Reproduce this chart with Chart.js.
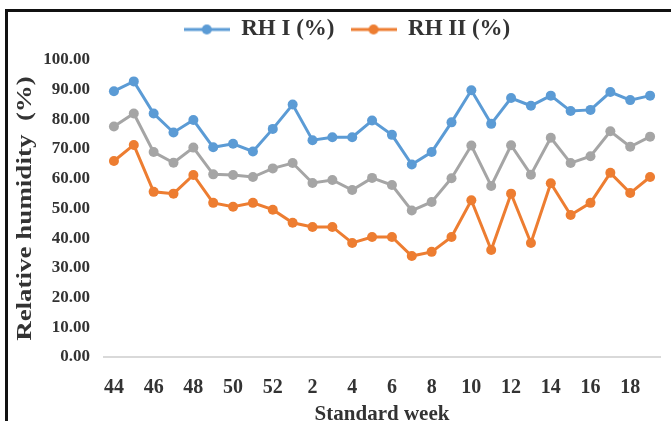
<!DOCTYPE html>
<html>
<head>
<meta charset="utf-8">
<script src="https://cdn.jsdelivr.net/npm/chart.js@4.4.1/dist/chart.umd.min.js"></script>
<style>
  html, body { margin:0; padding:0; background:#fff; overflow:hidden; }
  #wrap { position:relative; width:671px; height:421px; overflow:hidden; }
  #frame { position:absolute; left:5px; top:9px; right:-10px; bottom:-10px; border-top:3px solid #111; border-left:3px solid #111; pointer-events:none; }
  canvas { position:absolute; left:0; top:0; }
</style>
</head>
<body>
<div id="wrap">
  <canvas id="myChart" width="671" height="427"></canvas>
  <div id="frame"></div>
</div>
<script>
// 標準週
var weeks = ['44','45','46','47','48','49','50','51','52','1','2','3','4','5','6','7','8','9','10','11','12','13','14','15','16','17','18','19'];
// RH I (%)
var rh1 = [89.5, 92.8, 82.0, 75.6, 79.8, 70.6, 71.8, 69.2, 76.8, 85.0, 73.0, 74.0, 74.0, 79.6, 74.8, 64.8, 69.0, 79.0, 89.8, 78.5, 87.2, 84.6, 88.0, 82.8, 83.2, 89.2, 86.5, 88.0];
// 平均
var rhMean = [77.6, 82.0, 69.0, 65.4, 70.5, 61.5, 61.3, 60.6, 63.5, 65.3, 58.6, 59.6, 56.2, 60.3, 57.9, 49.3, 52.2, 60.2, 71.2, 57.6, 71.3, 61.4, 73.8, 65.3, 67.6, 76.0, 70.8, 74.2];
// RH II (%)
var rh2 = [66.0, 71.4, 55.6, 55.0, 61.3, 51.9, 50.6, 51.9, 49.6, 45.2, 43.8, 43.8, 38.4, 40.4, 40.4, 34.0, 35.4, 40.4, 52.8, 36.0, 55.0, 38.4, 58.5, 47.8, 51.9, 62.0, 55.2, 60.6];

var blue = '#5B9BD5', orange = '#ED7D31', grey = '#A5A5A5';
var serif = 'Liberation Serif';
var txt = '#333';

// 凡例のアイコン（線＋丸）
function legendIcon(color){
  var c = document.createElement('canvas');
  c.width = 46; c.height = 12;
  var g = c.getContext('2d');
  g.strokeStyle = color; g.lineWidth = 3;
  g.beginPath(); g.moveTo(0, 6); g.lineTo(46, 6); g.stroke();
  g.fillStyle = color;
  g.beginPath(); g.arc(23, 6, 5, 0, Math.PI * 2); g.fill();
  return c;
}

// 凡例の高さと位置
var legendBox = {
  id: 'legendBox',
  beforeInit: function(chart){
    var fit = chart.legend.fit;
    chart.legend.fit = function(){ fit.bind(chart.legend)(); this.height = 58; };
  },
  afterLayout: function(chart){
    chart.legend.left += 12;
    chart.legend.right += 12;
  }
};

// 縦軸タイトル（縦長の文字）
var yTitle = {
  id: 'yTitle',
  afterDraw: function(chart){
    var ctx = chart.ctx, area = chart.chartArea;
    ctx.save();
    ctx.translate(26, (area.top + area.bottom) / 2);
    ctx.rotate(-Math.PI / 2);
    ctx.scale(1.35, 1);
    ctx.font = 'bold 20px "' + serif + '"';
    ctx.fillStyle = txt;
    ctx.textAlign = 'center';
    ctx.textBaseline = 'middle';
    ctx.fillText('Relative humidity  (%)', 0, 0);
    ctx.restore();
  }
};

function series(label, data, color){
  return {
    label: label,
    data: data,
    borderColor: color,
    backgroundColor: color,
    pointBackgroundColor: color,
    pointBorderColor: color,
    borderWidth: 3,
    pointRadius: 5,
    pointBorderWidth: 0,
    tension: 0
  };
}

var ctx = document.getElementById('myChart').getContext('2d');
var myChart = new Chart(ctx, {
  type: 'line',
  data: {
    labels: weeks,
    datasets: [
      series('RH I (%)', rh1, blue),
      series('Mean', rhMean, grey),
      series('RH II (%)', rh2, orange)
    ]
  },
  options: {
    responsive: false,
    animation: false,
    layout: { padding: { left: 10, right: 11, top: 2, bottom: 0 } },
    plugins: {
      tooltip: { enabled: false },
      legend: {
        position: 'top',
        labels: {
          usePointStyle: true,
          pointStyleWidth: 46,
          padding: 16,
          color: txt,
          font: { family: serif, size: 23, weight: 'bold' },
          filter: function(item){ return item.text !== 'Mean'; },
          generateLabels: function(chart){
            var items = Chart.defaults.plugins.legend.labels.generateLabels(chart);
            items.forEach(function(it){
              it.pointStyle = legendIcon(chart.data.datasets[it.datasetIndex].borderColor);
            });
            return items;
          }
        }
      }
    },
    scales: {
      x: {
        offset: true,
        grid: { display: false, drawTicks: false },
        border: { color: '#d9d9d9', width: 2 },
        ticks: {
          autoSkip: false, maxRotation: 0, padding: 19, color: txt,
          font: { family: serif, size: 20, weight: 'bold' },
          callback: function(v, i){ return i % 2 === 0 ? weeks[i] : ''; }
        },
        title: {
          display: true, text: 'Standard week', color: txt,
          font: { family: serif, size: 21, weight: 'bold' },
          padding: { top: 0, bottom: 0 }
        },
        afterFit: function(s){ s.height = 70; }
      },
      y: {
        min: 0, max: 100,
        grid: { display: false, drawTicks: false },
        border: { display: false },
        ticks: {
          stepSize: 10, padding: 14, color: txt,
          font: { family: serif, size: 17, weight: 'bold' },
          callback: function(v){ return v.toFixed(2); }
        },
        afterFit: function(s){ s.width = 94; }
      }
    }
  },
  plugins: [legendBox, yTitle]
});
</script>
</body>
</html>
